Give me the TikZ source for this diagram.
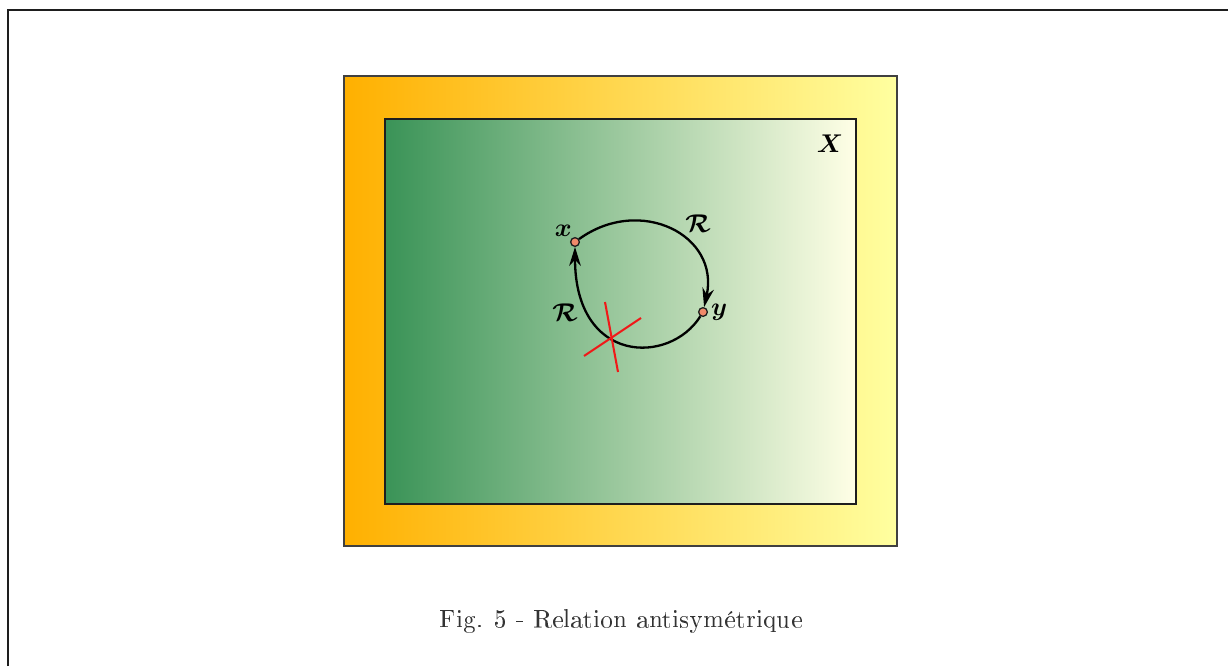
\documentclass[tikz,border=0pt]{standalone}
\usepackage[T1]{fontenc}
\usepackage{amsmath}
\usepackage{amssymb}
\usepackage{bm}
\usepackage{tikz}
\usepackage{xcolor}
\usetikzlibrary{arrows.meta,positioning,calc}
\definecolor{relorange}{HTML}{FFB000}
\definecolor{relpale}{HTML}{FFFFA0}
\definecolor{relgreen}{HTML}{3A9357}
\definecolor{relcream}{HTML}{FFFFE6}
\definecolor{reldot}{HTML}{F08A6A}
\definecolor{relred}{HTML}{F01818}
\definecolor{relink}{HTML}{1E1E1E}
\tikzset{
  outerBox/.style={draw=black!75, line width=0.5pt, left color=relorange, right color=relpale},
  innerBox/.style={draw=relink, line width=0.9pt, left color=relgreen, right color=relcream},
  relDot/.style={circle, draw=relink, fill=reldot, line width=0.5pt, inner sep=0pt, minimum size=3.4pt},
  relArrow/.style={-{Stealth[length=2.6mm,width=1.6mm]}, line width=0.9pt, draw=black},
  relLabel/.style={font=\normalsize, inner sep=1pt},
  crossLine/.style={draw=relred, line width=0.8pt}
}

\begin{document}
\begin{tikzpicture}[x=0.39pt,y=-0.39pt]
  \useasboundingbox (0,0) rectangle (1228,666);
  \draw[relink, line width=0.9pt] (8,666) -- (8,10) -- (1228,10);

  \path[outerBox] (344,76) rectangle (897,546);
  \path[innerBox] (385,119) rectangle (856,504);
  \node[relLabel] (setX) at (830,144) {$\bm{X}$};

  \node[relDot] (x) at (575,242) {};
  \node[relDot] (y) at (703,312) {};
  \node[relLabel, above left=-0.3pt and -1.3pt of x] (xlab) {$\bm{x}$};
  \node[relLabel, right=0pt of y] (ylab) {$\bm{y}$};
  \node[relLabel] (Rtop) at (698,224) {$\bm{\mathcal{R}}$};
  \node[relLabel] (Rbot) at (565,313) {$\bm{\mathcal{R}}$};

  \draw[relArrow] (x) .. controls (640,195) and (720,235) .. (y);
  \draw[relArrow] (y) .. controls (670,365) and (575,365) .. (x);

  % the crossed-out return arc
  \coordinate (cross) at (612,338);
  \draw[crossLine] ($(cross)+(-7,-36)$) -- ($(cross)+(6,34)$);
  \draw[crossLine] ($(cross)+(-28,18)$) -- ($(cross)+(29,-20)$);

  \node[text=black!80] (caption) at (621,621) {Fig. 5 - Relation antisym\'etrique};
\end{tikzpicture}
\end{document}
